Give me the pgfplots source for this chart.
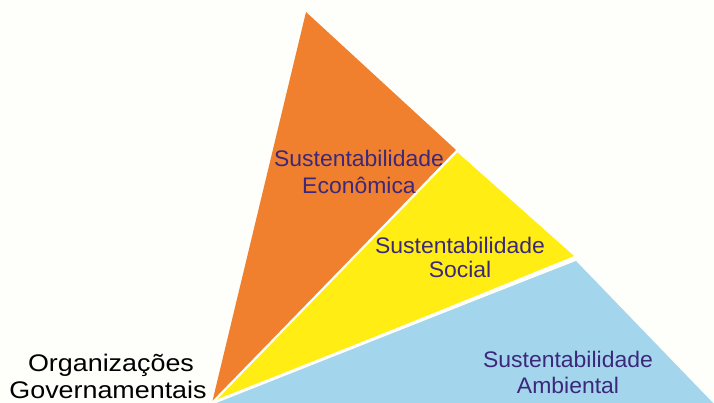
\documentclass[border=0pt]{standalone}
\usepackage{pgfplots}
\pgfplotsset{compat=1.18}
\usepackage{fontspec}
\setmainfont{Liberation Sans}
\newfontfamily\purplefont[FakeStretch=1.02]{Liberation Sans}
\newfontfamily\blackfont[FakeStretch=1.12]{Liberation Sans}
\definecolor{bgc}{RGB}{254,254,250}
\definecolor{orangec}{RGB}{240,128,46}
\definecolor{yellowc}{RGB}{255,237,20}
\definecolor{bluec}{RGB}{163,213,236}
\definecolor{txtc}{RGB}{60,40,122}
\begin{document}
\begin{tikzpicture}
\begin{axis}[
  width=714pt, height=403pt, scale only axis,
  xmin=0, xmax=714, ymin=0, ymax=403, y dir=reverse,
  axis lines=none, ticks=none,
  axis background/.style={fill=bgc},
  clip=true,
]
% orange triangle
\addplot[fill=orangec, draw=none] coordinates {(212,403) (306,12) (456,150) (212,403)};
% yellow triangle
\addplot[fill=yellowc, draw=none] coordinates {(212,403) (457,152) (574,256) (212,403)};
% blue triangle
\addplot[fill=bluec, draw=none] coordinates {(212,403) (576,261) (714,404) (212,406)};
% white separators
\addplot[draw=bgc, line width=2.2pt] coordinates {(212,403) (458,150)};
\addplot[draw=bgc, line width=3pt] coordinates {(212,403) (578,258)};
% labels
\node[anchor=base, text=txtc, font=\purplefont\fontsize{22.5}{26}\selectfont] at (axis cs:359,167) {Sustentabilidade};
\node[anchor=base, text=txtc, font=\purplefont\fontsize{22.5}{26}\selectfont] at (axis cs:359,194) {Econômica};
\node[anchor=base, text=txtc, font=\purplefont\fontsize{22.5}{26}\selectfont] at (axis cs:460,253) {Sustentabilidade};
\node[anchor=base, text=txtc, font=\purplefont\fontsize{22.5}{26}\selectfont] at (axis cs:460,277) {Social};
\node[anchor=base, text=txtc, font=\purplefont\fontsize{22.5}{26}\selectfont] at (axis cs:568,367) {Sustentabilidade};
\node[anchor=base, text=txtc, font=\purplefont\fontsize{22.5}{26}\selectfont] at (axis cs:568,393) {Ambiental};
\node[anchor=base, text=black, font=\blackfont\fontsize{24}{28}\selectfont] at (axis cs:111,371) {Organizações};
\node[anchor=base, text=black, font=\blackfont\fontsize{24}{28}\selectfont] at (axis cs:108,398) {Governamentais};
\end{axis}
\end{tikzpicture}
\end{document}
